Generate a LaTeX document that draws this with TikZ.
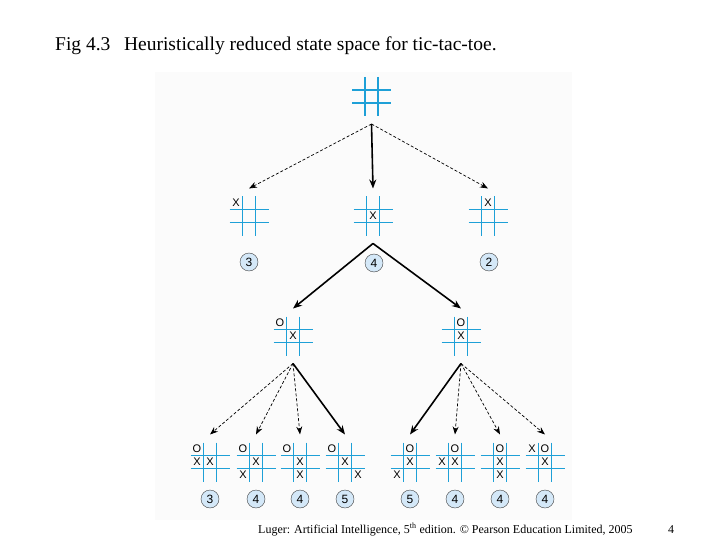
\documentclass[tikz,border=0pt]{standalone}
\usepackage{fontspec}
\setmainfont{Liberation Serif}
\newfontfamily\marksf{Liberation Sans}
\usetikzlibrary{arrows.meta,positioning}
\definecolor{gridblue}{RGB}{30,160,215}
\definecolor{hfill}{RGB}{212,232,248}

\begin{document}
\begin{tikzpicture}[x=1pt, y=-1pt,
    board/.style={rectangle, minimum size=39pt, inner sep=0pt, outer sep=8pt},
    hval/.style={circle, draw=black!75, fill=hfill, minimum size=18pt, inner sep=0pt,
      font=\marksf\fontsize{12}{12}\selectfont},
    mk/.style={inner sep=0pt, font=\marksf\fontsize{11}{11}\selectfont},
    arr/.style={-{Stealth[length=9pt,width=7pt]}, line width=1.6pt},
    darr/.style={-{Stealth[length=8pt,width=6pt]}, dash pattern=on 3pt off 2pt, line width=0.7pt},
    grid/.pic={
      \foreach \k in {-6.5,6.5} {
        \draw[gridblue, line width=1.7pt] (\k,-19.5) -- (\k,19.5);
        \draw[gridblue, line width=1.7pt] (-19.5,\k) -- (19.5,\k);
      }
    },
    ttt/.pic={
      \pic {grid};
      \foreach \s/\c/\r in {#1}
        \node[mk] at (13*\c-13, 13*\r-13) {\s};
    }
  ]
    \useasboundingbox (0,0) rectangle (720,540);
    \fill[black!1.5] (155,72) rectangle (572,520);

    \node[anchor=base west, inner sep=0pt, font=\fontsize{19.5}{19.5}\selectfont] (title) at (55,51)
      {Fig 4.3\hspace{0.7em}Heuristically reduced state space for tic-tac-toe.};

    % start
    \node[board] (b0) at (371.5,96.5) {};
    \pic at (b0) {grid};

    % first move
    \node[board] (b1) at (249,216) {};
    \node[board] (b2) at (373,216) {};
    \node[board] (b3) at (488,216) {};
    \pic at (b1) {ttt={X/0/0}};
    \pic at (b2) {ttt={X/1/1}};
    \pic at (b3) {ttt={X/1/0}};
    \node[hval] (h1) at (249,262) {3};
    \node[hval] (h2) at (374,263) {4};
    \node[hval] (h3) at (489,262) {2};

    % reply
    \node[board] (r1) at (293,336) {};
    \node[board] (r2) at (461,336) {};
    \pic at (r1) {ttt={O/0/0,X/1/1}};
    \pic at (r2) {ttt={O/1/0,X/1/1}};

    % second move
    \foreach \n/\x/\m/\v in {
        l1/210/{O/0/0,X/0/1,X/1/1}/3,
        l2/256/{O/0/0,X/1/1,X/0/2}/4,
        l3/300/{O/0/0,X/1/1,X/1/2}/4,
        l4/345/{O/0/0,X/1/1,X/2/2}/5,
        k1/410/{O/1/0,X/1/1,X/0/2}/5,
        k2/455/{O/1/0,X/0/1,X/1/1}/4,
        k3/500/{O/1/0,X/1/1,X/1/2}/4,
        k4/545/{X/0/0,O/1/0,X/1/1}/4} {
      \node[board] (\n) at (\x,462) {};
      \pic at (\n) {ttt/.expanded={\m}};
      \node[hval] (h\n) at (\x,499) {\v};
    }

    \draw[darr] (b0.south) -- (b1.north);
    \draw[arr] (b0.south) -- (b2.north);
    \draw[darr] (b0.south) -- (b3.north);
    \foreach \i in {r1,r2}
      \draw[arr] (b2.south) -- (\i.north);
    \foreach \i in {l1,l2,l3}
      \draw[darr] (r1.south) -- (\i.north);
    \draw[arr] (r1.south) -- (l4.north);
    \draw[arr] (r2.south) -- (k1.north);
    \foreach \i in {k2,k3,k4}
      \draw[darr] (r2.south) -- (\i.north);

    \node[anchor=base west, inner sep=0pt, font=\fontsize{12}{12}\selectfont] (foot) at (258,533)
      {Luger: Artificial Intelligence, 5\textsuperscript{th} edition. \textcopyright{} Pearson Education Limited, 2005};
    \node[anchor=base west, inner sep=0pt, font=\fontsize{12}{12}\selectfont] (pg) at (668,533) {4};
\end{tikzpicture}
\end{document}
